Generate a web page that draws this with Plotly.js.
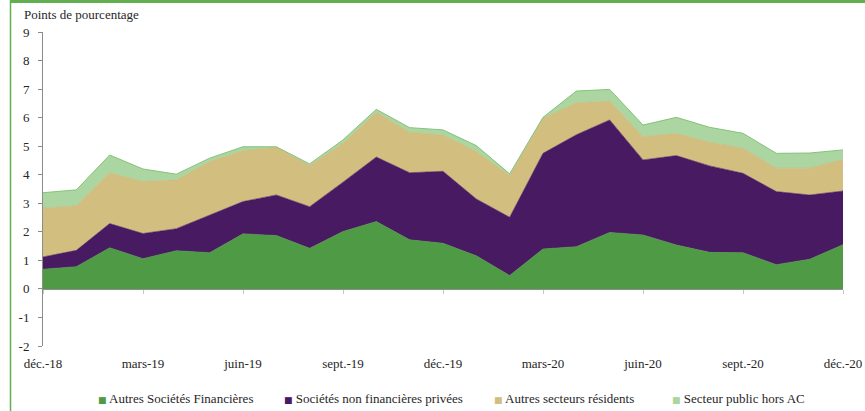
<!DOCTYPE html>
<html>
<head>
<meta charset="utf-8">
<script src="https://cdn.plot.ly/plotly-3.0.1.min.js"></script>
<style>html,body{margin:0;padding:0;background:#fff;}#chart{width:865px;height:411px;}</style>
</head>
<body>
<div id="chart"></div>
<script>
const months = ["déc.-18","janv.-19","févr.-19","mars-19","avr.-19","mai-19","juin-19","juil.-19","août-19","sept.-19","oct.-19","nov.-19","déc.-19","janv.-20","févr.-20","mars-20","avr.-20","mai-20","juin-20","juil.-20","août-20","sept.-20","oct.-20","nov.-20","déc.-20"];
const tickLabels = ["déc.-18","mars-19","juin-19","sept.-19","déc.-19","mars-20","juin-20","sept.-20","déc.-20"];
const yTickVals = [-2,-1,0,1,2,3,4,5,6,7,8,9];
const yTickText = ["-2","-1","0","1","2","3","4","5","6","7","8","9"];

const autresSocFin = [0.69,0.78,1.44,1.06,1.34,1.27,1.93,1.87,1.42,2.01,2.36,1.72,1.60,1.16,0.47,1.40,1.48,1.98,1.89,1.54,1.28,1.27,0.85,1.04,1.55];
const socNonFin   = [0.43,0.57,0.85,0.88,0.77,1.32,1.13,1.42,1.46,1.73,2.26,2.35,2.52,1.99,2.04,3.35,3.92,3.94,2.63,3.13,3.03,2.78,2.56,2.25,1.88];
const autresSect  = [1.71,1.56,1.78,1.82,1.71,1.87,1.78,1.67,1.44,1.36,1.57,1.42,1.27,1.66,1.46,1.23,1.12,0.66,0.81,0.78,0.83,0.88,0.82,0.94,1.11];
const secteurPub  = [0.54,0.56,0.62,0.44,0.20,0.12,0.14,0.02,0.06,0.12,0.10,0.16,0.18,0.21,0.06,0.03,0.41,0.41,0.41,0.56,0.52,0.52,0.52,0.53,0.33];

const names = ["Autres Sociétés Financières","Sociétés non financières privées","Autres secteurs résidents","Secteur public hors AC"];
const colors = ["#4F9A45","#481A61","#D2BF7F","#ABD6A2"];
const lineColors = ["#4F9A45","#481A61","#C9B677","#86C27A"];
const series = [autresSocFin, socNonFin, autresSect, secteurPub];

const FONT = "Liberation Serif";
const TXT = "#262626";

const traces = series.map((vals, i) => ({
  type: "scatter",
  mode: "lines",
  x: months,
  y: vals,
  name: names[i],
  stackgroup: "one",
  fillcolor: colors[i],
  line: {color: lineColors[i], width: i === 3 ? 1 : 0.6},
  showlegend: false,
  hoverinfo: "skip"
}));

// layout helpers (pixel -> paper)
const L = 43, R = 843, T = 32, B = 346;
const px = v => (v - L) / (R - L);
const py = v => (B - v) / (B - T);

const legendX = [96, 281.5, 492, 670];
const annotations = names.map((n, i) => ({
  xref: "paper", yref: "paper",
  x: px(legendX[i]), y: py(398),
  xanchor: "left", yanchor: "middle",
  showarrow: false,
  text: '<span style="color:' + colors[i] + ';font-size:9px;font-family:DejaVu Sans">■</span> ' + n,
  font: {family: FONT, size: 13, color: TXT}
}));
annotations.push({
  xref: "paper", yref: "paper",
  x: px(22), y: py(15),
  xanchor: "left", yanchor: "middle",
  showarrow: false,
  text: "Points de pourcentage",
  font: {family: FONT, size: 13, color: TXT}
});

const frameColor = "#62AF50";
const shapes = [
  {type: "line", xref: "paper", yref: "paper", x0: px(10), x1: px(865), y0: py(1.5), y1: py(1.5), line: {color: frameColor, width: 3}},
  {type: "line", xref: "paper", yref: "paper", x0: px(10.5), x1: px(10.5), y0: py(0), y1: py(411), line: {color: frameColor, width: 1.5}}
];

const layout = {
  width: 865, height: 411,
  margin: {l: L, r: 865 - R, t: T, b: 411 - B},
  paper_bgcolor: "#ffffff",
  plot_bgcolor: "#ffffff",
  showlegend: false,
  font: {family: FONT, size: 13, color: TXT},
  xaxis: {
    type: "category",
    range: [0, months.length - 1],
    anchor: "free",
    position: py(289),
    showline: true, linecolor: "#8C8C8C", linewidth: 1,
    ticks: "outside", ticklen: 4, tickcolor: "#C8C8C8",
    tickmode: "array", tickvals: tickLabels, ticktext: tickLabels,
    ticklabelstandoff: 58,
    showgrid: false, zeroline: false,
    tickfont: {family: FONT, size: 13, color: TXT}
  },
  yaxis: {
    range: [-2, 9],
    tickmode: "array", tickvals: yTickVals, ticktext: yTickText,
    showline: true, linecolor: "#8C8C8C", linewidth: 1,
    ticks: "outside", ticklen: 4, tickcolor: "#8C8C8C",
    ticklabelstandoff: 6,
    showgrid: false, zeroline: false,
    tickfont: {family: FONT, size: 13, color: TXT}
  },
  annotations: annotations,
  shapes: shapes
};

Plotly.newPlot("chart", traces, layout, {displayModeBar: false, staticPlot: true});
</script>
</body>
</html>
